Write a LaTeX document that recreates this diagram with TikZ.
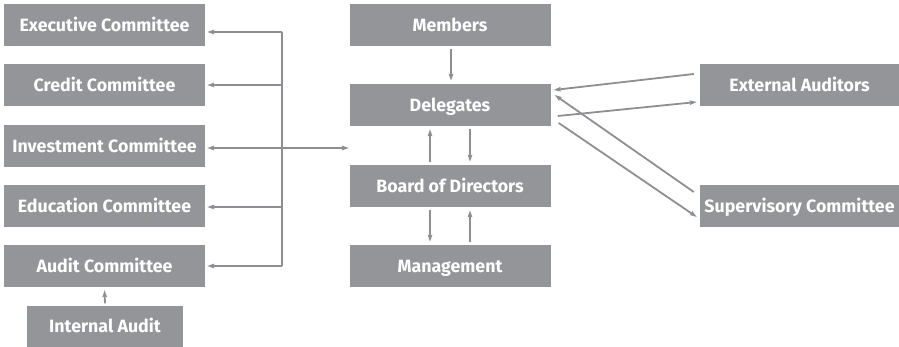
\documentclass[tikz,border=0pt]{standalone}
\usepackage{fontspec}
\setmainfont{Fira Sans}
\usetikzlibrary{arrows.meta,calc}
\definecolor{boxgray}{HTML}{939598}
\definecolor{linegray}{HTML}{8E8F92}
\tikzset{
  unit/.style={fill=boxgray, text=white, font=\bfseries\fontsize{17.8}{20}\selectfont,
    inner sep=0pt, minimum height=42pt, text height=12.6pt, text depth=0pt, anchor=center},
  wbox/.style={unit, minimum width=201pt},
  link/.style={draw=linegray, line width=1.8pt},
  arr/.style={link, -{Stealth[length=7pt,width=4.5pt,inset=1pt]}},
  darr/.style={link, {Stealth[length=7pt,width=4.5pt,inset=1pt]}-{Stealth[length=7pt,width=4.5pt,inset=1pt]}},
}
\begin{document}
\begin{tikzpicture}[x=1pt,y=-1pt]
\useasboundingbox (0,0) rectangle (899,347);
% left column: committees
\node[wbox] (exec) at (104.5,25)  {Executive Committee};
\node[wbox] (cred) at (104.5,85)  {Credit Committee};
\node[wbox] (inv)  at (104.5,146) {Investment Committee};
\node[wbox] (edu)  at (104.5,206) {Education Committee};
\node[wbox] (aud)  at (104.5,266) {Audit Committee};
\node[unit, minimum width=156pt, minimum height=41pt] (int) at (105,326) {Internal Audit};
% middle column
\node[wbox] (mem)  at (450,25)  {Members};
\node[wbox] (del)  at (450,105) {Delegates};
\node[wbox] (bod)  at (450,186) {Board of Directors};
\node[wbox] (mgt)  at (450,266) {Management};
% right column
\node[unit, minimum width=199pt] (ext) at (799.5,85)  {External Auditors};
\node[unit, minimum width=199pt] (sup) at (799.5,206) {Supervisory Committee};

% distribution bus on the left
\coordinate (bt) at (282,32);
\coordinate (bb) at (282,266);
\coordinate (ed) at (282,207);
\coordinate (gap) at (349,148);
\draw[link] (bt) -- (bb);
\draw[arr] (bt) -- ($(exec.east)+(2,7)$);
\draw[arr] (bt |- cred.east) -- ($(cred.east)+(2,0)$);
\draw[darr] ($(inv.east)+(2,2)$) -- (gap);
\draw[arr] (ed) -- ($(edu.east)+(2,1)$);
\draw[arr] (bb) -- ($(aud.east)+(2,0)$);
\draw[arr] ($(int.north)+(0,-2)$) -- ($(aud.south)+(0,3)$);

% middle column links
\draw[arr] ($(mem.south)+(1,3)$) -- ($(del.north)+(1,-3)$);
\draw[arr] ($(bod.north)+(-20,-3)$) -- ($(del.south)+(-20,3)$);
\draw[arr] ($(del.south)+(20,3)$) -- ($(bod.north)+(20,-3)$);
\draw[arr] ($(bod.south)+(-20,3)$) -- ($(mgt.north)+(-20,-3)$);
\draw[arr] ($(mgt.north)+(20,-3)$) -- ($(bod.south)+(20,3)$);

% links to the right column
\draw[arr] ($(ext.west)+(-6,-11)$) -- ($(del.east)+(3,-15)$);
\draw[arr] ($(del.east)+(7,11)$) -- ($(ext.west)+(-3,17)$);
\draw[arr] ($(sup.west)+(-6,-14)$) -- ($(del.east)+(4,-10)$);
\draw[arr] ($(del.east)+(8,18)$) -- ($(sup.west)+(-3,11)$);
\end{tikzpicture}
\end{document}
